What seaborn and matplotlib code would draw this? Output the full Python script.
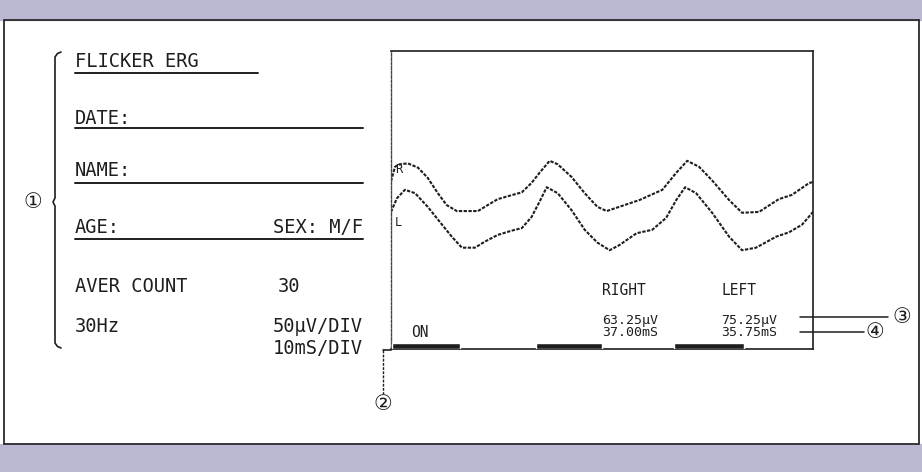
import matplotlib
matplotlib.use("Agg")
import matplotlib.pyplot as plt
import seaborn as sns
import pandas as pd
from matplotlib.lines import Line2D
from matplotlib.patches import Rectangle

# ---------------- data ----------------
right_time = [0, 0.95, 2.1, 4.0, 6.4, 8.7, 11.1, 13.2, 15.6, 20.6, 22.9, 25.3, 28.1, 31.0, 33.3,
              35.2, 37.6, 39.5, 42.8, 45.9, 48.9, 51.1, 54.1, 58.9, 64.3, 67.6, 70.2, 73.0, 76.1,
              80.1, 83.2, 87.2, 91.9, 95.0, 99.1, 100]
right_uv = [197, 214, 217, 218, 213, 201, 183, 169, 162, 162, 169, 176, 180, 184, 195,
            207, 221, 217, 202, 183, 167, 162, 167, 175, 187, 207, 221, 214, 198,
            175, 160, 161, 176, 181, 195, 196]
left_time = [0, 1.4, 3.3, 5.7, 8.7, 12.1, 14.4, 16.8, 19.9, 22.2, 25.3, 28.6, 31.0, 33.3, 35.2,
             36.9, 39.5, 42.8, 45.9, 48.9, 51.8, 54.1, 58.2, 61.9, 65.2, 67.6, 69.7, 72.3, 76.1,
             80.1, 83.2, 86.5, 91.3, 94.3, 97.4, 100]
left_uv = [161, 177, 187, 183, 167, 146, 132, 119, 119, 126, 134, 139, 142, 155, 173,
           190, 183, 163, 140, 125, 116, 122, 136, 140, 154, 175, 190, 183, 160,
           132, 116, 119, 132, 137, 146, 161]
stim_on = [0.2, 34.3, 67.1]          # ms, flash ON onsets
stim_dur = [16.1, 15.8, 16.6]        # ms
x_ticks = [10, 20, 30, 40, 50, 60, 70, 80, 90]       # 10 mS/DIV
y_ticks = [50, 100, 150, 200, 250, 300]              # 50 uV/DIV
result_labels = ["RIGHT", "LEFT"]
result_amp = ["63.25µV", "75.25µV"]
result_time = ["37.00mS", "35.75mS"]
info_lines = ["FLICKER ERG", "DATE:", "NAME:", "AGE:", "AVER COUNT", "30Hz"]
info_right = ["SEX: M/F", "50µV/DIV", "10mS/DIV"]

# ---------------- figure ----------------
W, H = 922, 472
sns.set_style("white")
plt.rcParams["font.family"] = ["DejaVu Sans Mono", "Noto Sans CJK JP"]
fig = plt.figure(figsize=(W / 100, H / 100), dpi=100)
fig.patch.set_facecolor("white")

def P(x, y):
    return (x / W, 1 - y / H)

INK = "#1e1e1e"
BAND = "#bab8d2"
# top / bottom bands and frame
fig.add_artist(Rectangle(P(0, 20), 1, 20 / H, transform=fig.transFigure, color=BAND, zorder=0))
fig.add_artist(Rectangle(P(0, 472), 1, 28.5 / H, transform=fig.transFigure, color=BAND, zorder=0))
x0, y0 = P(3.5, 443.5)
x1, y1 = P(918.5, 20)
fig.add_artist(Rectangle((x0, y0), x1 - x0, y1 - y0, transform=fig.transFigure,
                         fill=False, ec="#2a2a2a", lw=1.3, zorder=1))

# ---------------- ERG axes ----------------
ax = fig.add_axes([391 / W, 1 - 349 / H, 422 / W, 298 / H])
df = pd.concat([
    pd.DataFrame({"time": right_time, "uv": right_uv, "eye": "R"}),
    pd.DataFrame({"time": left_time, "uv": left_uv, "eye": "L"}),
])
sns.lineplot(data=df, x="time", y="uv", hue="eye", units="eye", estimator=None, sort=False,
             palette={"R": INK, "L": INK}, legend=False, ax=ax, lw=1.5,
             linestyle=(0, (1.6, 0.7)))
ax.bar(stim_on, 6.5, width=stim_dur, align="edge", bottom=0, color=INK, zorder=3)
ax.set_xlim(0, 100)
ax.set_ylim(0, 350)
ax.set_xticks(x_ticks)
ax.set_yticks(y_ticks)
ax.set_xlabel("")
ax.set_ylabel("")
ax.tick_params(axis="x", direction="out", length=3, width=1, color=INK, labelbottom=False)
ax.tick_params(axis="y", direction="inout", length=5, width=1.4, color=INK, labelleft=False)
for s in ["top", "right", "bottom"]:
    ax.spines[s].set_color(INK)
    ax.spines[s].set_linewidth(1.2)
ax.spines["left"].set_color("#444444")
ax.spines["left"].set_linewidth(1.0)
ax.spines["left"].set_linestyle((0, (2, 1.2)))
ax.set_facecolor("none")
ax.grid(False)

tfs = 10.5
ax.text(0.9, 211, "R", fontsize=8.5, ha="left", va="center", color=INK)
ax.text(0.9, 148, "L", fontsize=8.5, ha="left", va="center", color=INK)
ax.text(4.7, 18.8, "ON", fontsize=tfs, ha="left", va="center", color=INK)
for xs, lab, amp, tm in zip([50.1, 78.3], result_labels, result_amp, result_time):
    ax.text(xs, 68.7, lab, fontsize=tfs, ha="left", va="center", color=INK)
    ax.text(xs, 25.5, amp, fontsize=9.5, ha="left", va="bottom", color=INK,
            linespacing=1.0)
    ax.text(xs, 26.5, tm, fontsize=9.5, ha="left", va="top", color=INK,
            linespacing=1.0)

# ---------------- left information block ----------------
lfs = 13.5
tx = 75 / W
fig.text(tx, P(0, 61.5)[1], info_lines[0], fontsize=lfs, va="center", color=INK)
fig.text(tx, P(0, 118)[1], info_lines[1], fontsize=lfs, va="center", color=INK)
fig.text(tx, P(0, 171)[1], info_lines[2], fontsize=lfs, va="center", color=INK)
fig.text(tx, P(0, 227.5)[1], info_lines[3], fontsize=lfs, va="center", color=INK)
fig.text(363 / W, P(0, 227.5)[1], info_right[0], fontsize=lfs, va="center", ha="right", color=INK)
fig.text(tx, P(0, 286)[1], info_lines[4], fontsize=lfs, va="center", color=INK)
fig.text(278 / W, P(0, 286)[1], "30", fontsize=lfs, va="center", color=INK)
fig.text(tx, P(0, 327)[1], info_lines[5], fontsize=lfs, va="center", color=INK)
fig.text(363 / W, P(0, 327)[1], info_right[1], fontsize=lfs, va="center", ha="right", color=INK)
fig.text(363 / W, P(0, 349)[1], info_right[2], fontsize=lfs, va="center", ha="right", color=INK)

def fline(xs, ys, **kw):
    pts = [P(x, y) for x, y in zip(xs, ys)]
    fig.add_artist(Line2D([p[0] for p in pts], [p[1] for p in pts],
                          transform=fig.transFigure, color=kw.pop("color", INK), **kw))

# underlines
fline([75, 258], [73, 73], lw=1.4)
for yy in [128, 183, 238.5]:
    fline([75, 363], [yy, yy], lw=1.4)

# brace
fline([61, 57.5, 55, 55, 53, 55, 55, 57.5, 61],
      [52, 53.5, 57, 198, 202, 206, 343, 346.5, 348], lw=1.2)

# leaders
fline([383, 391], [349.5, 349.5], lw=1.2)
fline([383, 383], [349.5, 394], lw=1.0, linestyle=(0, (2, 1)))
fline([800, 888], [317, 317], lw=1.1)
fline([800, 864], [332, 332], lw=1.1)

cfs = 15
fam = ["DejaVu Sans", "Noto Sans CJK JP"]
fig.text(*P(33, 202), "①", fontsize=cfs, ha="center", va="center", family=fam, color=INK)
fig.text(*P(383, 404), "②", fontsize=cfs, ha="center", va="center", family=fam, color=INK)
fig.text(*P(902, 317), "③", fontsize=cfs, ha="center", va="center", family=fam, color=INK)
fig.text(*P(875, 332), "④", fontsize=cfs, ha="center", va="center", family=fam, color=INK)

fig.savefig("out.png", dpi=100, facecolor=fig.get_facecolor())
